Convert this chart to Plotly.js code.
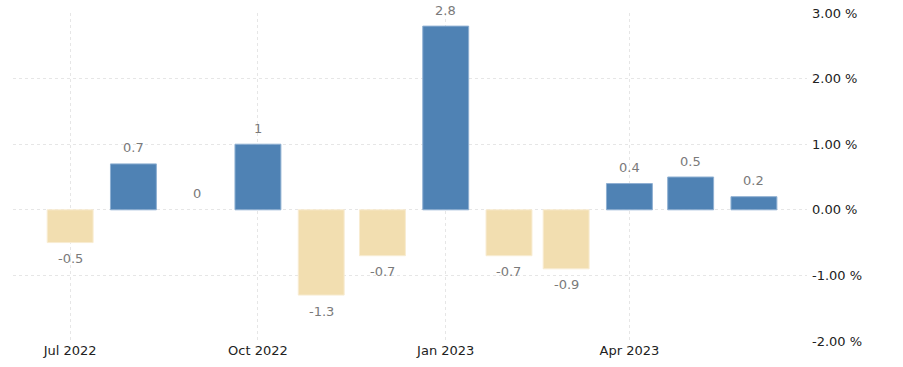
<!DOCTYPE html>
<html>
<head>
<meta charset="utf-8">
<script src="https://cdn.plot.ly/plotly-3.0.1.min.js"></script>
<style>html,body{margin:0;padding:0;background:#fff;}#chart{width:903px;height:367px;}</style>
</head>
<body>
<div id="chart"></div>
<script>
const months = ["2022-07-01","2022-08-01","2022-09-01","2022-10-01","2022-11-01","2022-12-01","2023-01-01","2023-02-01","2023-03-01","2023-04-01","2023-05-01","2023-06-01"];
const values = [-0.5, 0.7, 0, 1, -1.3, -0.7, 2.8, -0.7, -0.9, 0.4, 0.5, 0.2];
const labels = ["-0.5","0.7","0","1","-1.3","-0.7","2.8","-0.7","-0.9","0.4","0.5","0.2"];
const tickDates = ["2022-07-01","2022-10-01","2023-01-01","2023-04-01"];
const tickText = ["Jul 2022","Oct 2022","Jan 2023","Apr 2023"];
const yTicks = [-2, -1, 0, 1, 2, 3];
const yTickText = ["-2.00 %","-1.00 %","0.00 %","1.00 %","2.00 %","3.00 %"];

const POS = "#4f82b4", NEG = "#f2deb0";
const POS_LINE = "#8fb0d2", NEG_LINE = "#f8ecd2";
const DAY = 86400000;
const FONT = "DejaVu Sans, Verdana, sans-serif";

const trace = {
  type: "bar",
  x: months,
  y: values,
  width: months.map(() => 22.5 * DAY),
  marker: {
    color: values.map(v => v >= 0 ? POS : NEG),
    line: {
      color: values.map(v => v >= 0 ? POS_LINE : NEG_LINE),
      width: values.map(v => v === 0 ? 0 : 1)
    }
  },
  hoverinfo: "none"
};

const annotations = months.map((m, i) => ({
  x: m, y: values[i], xref: "x", yref: "y",
  text: labels[i], showarrow: false,
  yshift: values[i] >= 0 ? 16 : -16,
  font: {family: FONT, size: 13, color: "#7a7a7a"}
}));

const layout = {
  width: 903, height: 367,
  margin: {l: 13, r: 96, t: 13, b: 26},
  paper_bgcolor: "#fff", plot_bgcolor: "#fff",
  showlegend: false,
  bargap: 0,
  xaxis: {
    type: "date",
    range: ["2022-06-03", "2023-06-27"],
    tickvals: tickDates, ticktext: tickText,
    showgrid: true, gridcolor: "#e6e6e6", griddash: "dot", gridwidth: 1,
    zeroline: false, showline: false, ticks: "",
    tickfont: {family: FONT, size: 13, color: "#222"}
  },
  yaxis: {
    side: "right",
    range: [-2, 3],
    tickvals: yTicks, ticktext: yTickText,
    showgrid: true, gridcolor: "#e6e6e6", griddash: "dot", gridwidth: 1,
    zeroline: false, showline: false, ticks: "",
    ticklabelstandoff: 4,
    tickfont: {family: FONT, size: 13, color: "#222"}
  },
  annotations: annotations
};

Plotly.newPlot("chart", [trace], layout, {displayModeBar: false, staticPlot: true});
</script>
</body>
</html>
